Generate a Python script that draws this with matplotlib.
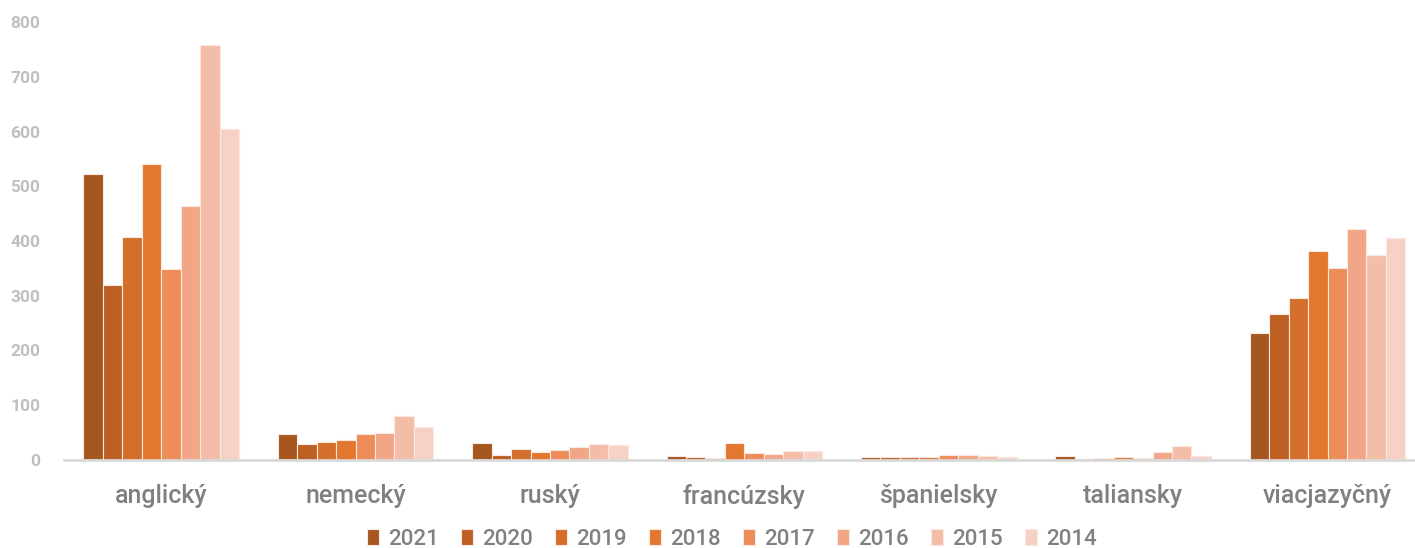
import matplotlib.pyplot as plt
import numpy as np

plt.rcParams['font.family'] = ['Roboto', 'DejaVu Sans']

languages = ['anglický', 'nemecký', 'ruský', 'francúzsky', 'španielsky', 'taliansky', 'viacjazyčný']
years = ['2021', '2020', '2019', '2018', '2017', '2016', '2015', '2014']

v2021 = [523, 48, 31, 8, 5, 8, 232]
v2020 = [319, 29, 9, 5, 6, 2, 267]
v2019 = [408, 32, 21, 4, 5, 4, 296]
v2018 = [541, 36, 15, 31, 5, 5, 382]
v2017 = [349, 48, 19, 13, 9, 4, 351]
v2016 = [464, 50, 23, 11, 9, 15, 422]
v2015 = [758, 81, 30, 17, 7, 25, 374]
v2014 = [604, 61, 28, 17, 6, 8, 405]
values = [v2021, v2020, v2019, v2018, v2017, v2016, v2015, v2014]

colors = ['#A6561F', '#BE5F24', '#D46E2B', '#E4772F', '#EE8C5A', '#F1A688', '#F4BDA8', '#F7D1C5']

fig = plt.figure(figsize=(14.15, 5.48), dpi=100)
ax = fig.add_axes([64 / 1415, 88 / 548, 1 - 64 / 1415, 438 / 548])

x = np.arange(len(languages))
w = 0.1
for i, (yr, vals) in enumerate(zip(years, values)):
    ax.bar(x - 0.35 + i * w, vals, width=w, color=colors[i], edgecolor='#FBE9E1',
           linewidth=0.8, label=yr, zorder=2)

ax.set_ylim(0, 800)
ax.set_xlim(-0.5, 6.45)
ax.set_yticks(range(0, 801, 100))
ax.tick_params(axis='y', length=0, pad=17, labelsize=12.5, labelcolor='#BFBFBF')
for t in ax.get_yticklabels():
    t.set_fontweight('bold')
ax.set_xticks(x)
ax.set_xticklabels(languages)
ax.tick_params(axis='x', length=0, pad=17, labelsize=18, labelcolor='#808080')
for t in ax.get_xticklabels():
    t.set_fontweight('medium')

for s in ['top', 'right', 'left']:
    ax.spines[s].set_visible(False)
ax.spines['bottom'].set_color('#D9D9D9')
ax.spines['bottom'].set_linewidth(2)
ax.spines['bottom'].set_zorder(3)

leg = fig.legend(loc='lower center', bbox_to_anchor=(0.517, -0.04), ncol=8, frameon=False,
                 handlelength=0.55, handleheight=0.75, handletextpad=0.4, columnspacing=1.0,
                 prop={'size': 16, 'weight': 'medium'})
for t in leg.get_texts():
    t.set_color('#808080')

fig.savefig('out.png', dpi=100)
